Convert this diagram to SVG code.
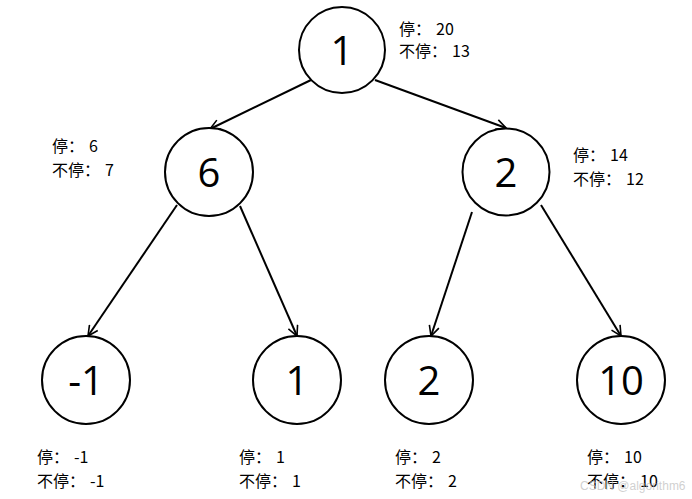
<svg xmlns="http://www.w3.org/2000/svg" width="692" height="499" viewBox="0 0 692 499">
<defs>
<marker id="arr" viewBox="0 0 12 12" refX="11" refY="6" markerWidth="12" markerHeight="12" markerUnits="userSpaceOnUse" orient="auto">
<path d="M1,1 L11,6 L1,11" fill="none" stroke="#000" stroke-width="1.6"/>
</marker>
<style>
.n{fill:#fff;stroke:#000;stroke-width:2}
.v{font-family:"Open Sans","Noto Sans","Liberation Sans",sans-serif;font-size:40px;fill:#000;text-anchor:middle}
.l{font-family:"Noto Sans CJK SC","Noto Sans",sans-serif;font-size:16px;fill:#000}
.e{stroke:#000;stroke-width:2;fill:none;marker-end:url(#arr)}
</style>
</defs>
<rect width="692" height="499" fill="#fff"/>
<g id="connectors">
<line class="e" x1="311" y1="80" x2="210" y2="129"/>
<line class="e" x1="375" y1="80" x2="506" y2="128"/>
<line class="e" x1="177" y1="205" x2="88" y2="336"/>
<line class="e" x1="240" y1="206" x2="297" y2="336"/>
<line class="e" x1="472" y1="212" x2="431" y2="336"/>
<line class="e" x1="541" y1="205" x2="621" y2="336"/>
</g>
<g id="node-root">
<circle class="n" cx="342" cy="50" r="43"/>
<text class="v" x="342" y="65">1</text>
<text class="l" x="399" y="35">停：<tspan dx="5">20</tspan></text>
<text class="l" x="399" y="57">不停：<tspan dx="5">13</tspan></text>
</g>
<g id="node-6">
<circle class="n" cx="209" cy="172" r="44"/>
<text class="v" x="209" y="187">6</text>
<text class="l" x="52" y="152">停：<tspan dx="5">6</tspan></text>
<text class="l" x="52" y="176">不停：<tspan dx="5">7</tspan></text>
</g>
<g id="node-2a">
<circle class="n" cx="506" cy="172" r="43.5"/>
<text class="v" x="506" y="187">2</text>
<text class="l" x="573" y="161">停：<tspan dx="5">14</tspan></text>
<text class="l" x="573" y="185">不停：<tspan dx="5">12</tspan></text>
</g>
<g id="node-m1">
<circle class="n" cx="86" cy="380" r="44"/>
<text class="v" x="86" y="395">-1</text>
<text class="l" x="37" y="463">停：<tspan dx="5">-1</tspan></text>
<text class="l" x="37" y="487">不停：<tspan dx="5">-1</tspan></text>
</g>
<g id="node-1">
<circle class="n" cx="297" cy="380" r="44"/>
<text class="v" x="297" y="395">1</text>
<text class="l" x="239" y="463">停：<tspan dx="5">1</tspan></text>
<text class="l" x="239" y="487">不停：<tspan dx="5">1</tspan></text>
</g>
<g id="node-2b">
<circle class="n" cx="429" cy="380" r="44"/>
<text class="v" x="429" y="395">2</text>
<text class="l" x="395" y="463">停：<tspan dx="5">2</tspan></text>
<text class="l" x="395" y="487">不停：<tspan dx="5">2</tspan></text>
</g>
<g id="node-10">
<circle class="n" cx="621" cy="380" r="44"/>
<text class="v" x="621" y="395">10</text>
<text class="l" x="587" y="463">停：<tspan dx="5">10</tspan></text>
<text class="l" x="587" y="487">不停：<tspan dx="5">10</tspan></text>
</g>
<text x="580" y="490" font-family="Liberation Sans,sans-serif" font-size="12" fill="#bbb" fill-opacity="0.7">CSDN @algorithm6</text>
</svg>
